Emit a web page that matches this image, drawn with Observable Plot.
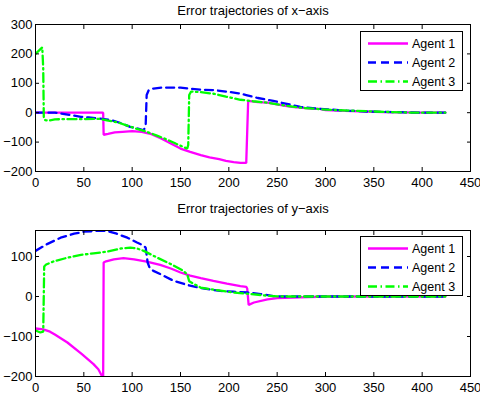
<!DOCTYPE html>
<html>
<head>
<meta charset="utf-8">
<script src="https://cdn.jsdelivr.net/npm/d3@7"></script>
<script src="https://cdn.jsdelivr.net/npm/@observablehq/plot@0.6"></script>
<style>
  html, body { margin: 0; padding: 0; background: #fff; }
  #wrap { position: relative; width: 480px; height: 401px; font-family: "Liberation Sans", Arial, sans-serif; }
  #wrap svg.plot { display: block; }
  .legend { position: absolute; background: #fff; border: 1px solid #000; box-sizing: border-box; }
</style>
</head>
<body>
<div id="wrap"></div>
<script>
// ---- data: [t, error] pairs ----
const titles = ["Error trajectories of x\u2212axis", "Error trajectories of y\u2212axis"];
const agentNames = ["Agent 1", "Agent 2", "Agent 3"];
const agentColors = ["#ff00ff", "#0000ff", "#00ff00"];
const agentDashes = [null, "8,5", "9,3.5,1.5,3.5"];
const xTicks = [0, 50, 100, 150, 200, 250, 300, 350, 400, 450];
const yTicksTop = [-200, -100, 0, 100, 200, 300];
const yTicksBottom = [-200, -100, 0, 100];

const xAgent1 = [[0,0],[70,0],[70.5,-75],[75,-72],[82,-67],[90,-65],[100,-63],[110,-65],[120,-73],[130,-88],[140,-105],[150,-122],[160,-133],[171,-144],[180,-152],[190,-158],[197,-164],[205,-168],[212,-171],[218,-171],[220,40],[230,36],[240,34],[250,28],[257,24],[265,20],[274,17],[285,14],[294,13],[300,9],[320,6],[343,4],[360,2],[380,1],[400,0],[424,0]];
const xAgent2 = [[0,0],[20,0],[30,-5],[40,-10],[47,-14],[55,-16],[67,-20],[78,-25],[88,-35],[98,-48],[106,-54],[112,-60],[114,-40],[115,60],[117,76],[122,82],[130,85],[150,85],[171,78],[185,77],[197,72],[210,66],[218,60],[230,50],[246,40],[260,30],[274,20],[294,13],[322,7],[343,4],[370,2],[400,0],[424,0]];
const xAgent3 = [[0,200],[7,222],[8,150],[8.6,-20],[10,-25],[13,-27],[20,-23],[26,-22],[45,-22],[67,-21],[74,-26],[85,-33],[95,-44],[105,-55],[115,-65],[125,-77],[135,-90],[145,-105],[152,-115],[157,-122],[158,-110],[159,60],[161,72],[171,70],[185,64],[197,55],[212,44],[225,39],[240,34],[257,25],[274,17],[290,13],[309,9],[343,5],[360,3],[378,1],[400,0],[424,0]];

const yAgent1 = [[0,-80],[8,-82],[15,-88],[20,-95],[33,-115],[48,-144],[60,-169],[65,-182],[69,-200],[70,-200],[70.5,85],[73,88],[81,93],[91,96],[102,93],[115,87],[129,79],[140,70],[150,60],[160,52],[171,46],[184,39],[198,32],[212,26],[218,24],[219,20],[220.5,-21],[226,-15],[240,-7],[250,-4],[274,-2],[300,0],[424,0]];
const yAgent2 = [[0,114],[12,131],[26,147],[40,157],[50,162],[64,164],[74,164],[84,157],[95,147],[105,135],[112,127],[114,122],[116,85],[118,72],[122,64],[129,56],[143,39],[157,29],[171,21],[191,14],[205,12],[219,10],[233,6],[246,1],[255,0],[424,0]];
const yAgent3 = [[0,-85],[5,-90],[8,-88],[9,75],[11,80],[19,88],[33,97],[47,104],[60,108],[74,112],[88,120],[98,122],[105,120],[112,114],[126,97],[140,81],[153,64],[157,55],[159,38],[165,30],[171,22],[188,16],[205,10],[219,7],[240,2],[255,0],[424,0]];

const panels = [
  {title: titles[0], series: [xAgent1, xAgent2, xAgent3], yDomain: [-200, 300], yTicks: yTicksTop,
   height: 200, marginTop: 24, marginBottom: 29, titleDy: -14, legendTop: 31},
  {title: titles[1], series: [yAgent1, yAgent2, yAgent3], yDomain: [-200, 165], yTicks: yTicksBottom,
   height: 201, marginTop: 30, marginBottom: 25, titleDy: -22, legendTop: 236}
];

const fmt = d => d < 0 ? "\u2212" + (-d) : String(d);
const wrap = document.getElementById("wrap");
for (const p of panels) {
  const lines = p.series.map((s, i) => Plot.line(s, {
    x: d => d[0], y: d => d[1], stroke: agentColors[i], strokeWidth: 2.3,
    strokeDasharray: agentDashes[i], clip: true, strokeLinejoin: "miter"
  }));
  const svg = Plot.plot({
    width: 480, height: p.height,
    marginTop: p.marginTop, marginBottom: p.marginBottom, marginLeft: 35, marginRight: 10,
    x: {domain: [0, 450]},
    y: {domain: p.yDomain},
    style: {fontFamily: "'Liberation Sans', Arial, sans-serif", fontSize: "13px", color: "#000", background: "#fff"},
    marks: [
      ...lines,
      Plot.frame({stroke: "#000", strokeWidth: 1}),
      Plot.axisX(xTicks, {anchor: "bottom", tickSize: -4, tickPadding: 10, label: null, tickFormat: fmt}),
      Plot.axisX(xTicks, {anchor: "top", tickSize: -4, label: null, tickFormat: () => ""}),
      Plot.axisY(p.yTicks, {anchor: "left", tickSize: -4, tickPadding: 7, label: null, tickFormat: fmt}),
      Plot.axisY(p.yTicks, {anchor: "right", tickSize: -4, label: null, tickFormat: () => ""}),
      Plot.text([p.title], {frameAnchor: "top", lineAnchor: "middle", dy: p.titleDy, fontSize: 13, fill: "#000"})
    ]
  });
  svg.classList.add("plot");
  wrap.appendChild(svg);

  // legend
  const lg = document.createElement("div");
  lg.className = "legend";
  lg.style.left = "360px"; lg.style.top = p.legendTop + "px";
  lg.style.width = "103px"; lg.style.height = "60px";
  const ns = "http://www.w3.org/2000/svg";
  const ls = document.createElementNS(ns, "svg");
  ls.setAttribute("width", 101); ls.setAttribute("height", 58);
  ls.style.display = "block";
  agentNames.forEach((name, i) => {
    const yy = 11.5 + i * 19;
    const ln = document.createElementNS(ns, "line");
    ln.setAttribute("x1", 7); ln.setAttribute("x2", 47);
    ln.setAttribute("y1", yy); ln.setAttribute("y2", yy);
    ln.setAttribute("stroke", agentColors[i]); ln.setAttribute("stroke-width", 2.3);
    if (agentDashes[i]) ln.setAttribute("stroke-dasharray", agentDashes[i]);
    ls.appendChild(ln);
    const tx = document.createElementNS(ns, "text");
    tx.setAttribute("x", 51); tx.setAttribute("y", yy);
    tx.setAttribute("dy", "0.35em");
    tx.setAttribute("font-size", "12.5px");
    tx.setAttribute("font-family", "'Liberation Sans', Arial, sans-serif");
    tx.textContent = name;
    ls.appendChild(tx);
  });
  lg.appendChild(ls);
  wrap.appendChild(lg);
}
</script>
</body>
</html>
